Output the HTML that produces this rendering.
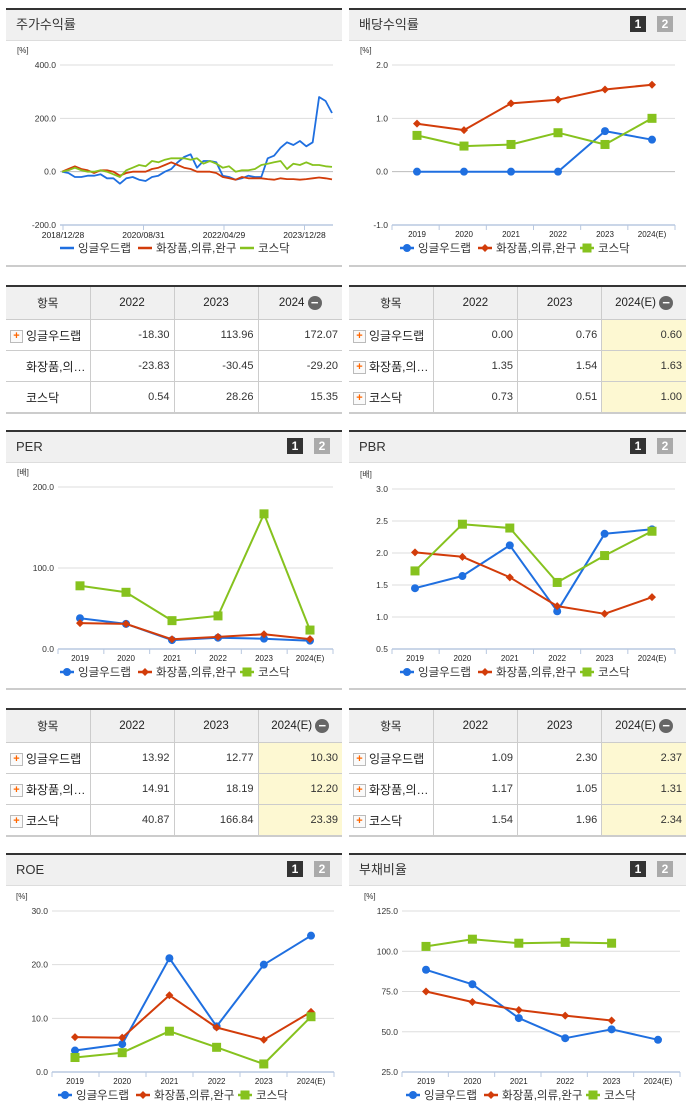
<!DOCTYPE html>
<html><head><meta charset="utf-8">
<style>
body{margin:0;width:691px;height:1115px;background:#fff;position:relative;overflow:hidden;font-family:"Liberation Sans","Noto Sans CJK KR",sans-serif;color:#222}
.panel{position:absolute;border-top:2px solid #333;border-bottom:2px solid #ccc;box-sizing:border-box}
.hdr{position:absolute;left:0;right:0;top:0;height:30px;background:#f0f0f0;border-bottom:1px solid #ddd;font-size:13px;line-height:30px;padding-left:10px;color:#333}
.badge{position:absolute;top:6px;width:16px;height:16px;font-size:12px;font-weight:bold;color:#fff;text-align:center;line-height:16px}
table{position:absolute;border-collapse:collapse;font-size:11px;table-layout:fixed}
td,th{border:1px solid #ccc;height:30px;padding:0 4px;font-weight:normal}
th{background:#f0f0f0;text-align:center;height:32px;font-size:11.5px}
td.n{text-align:right;color:#333}
td.y{background:#fdf8d2}
td.l{text-align:left;font-size:12px;white-space:nowrap;overflow:hidden}
.plus{display:inline-block;width:11px;height:11px;border:1px solid #bbb;background:#fafafa;color:#f60;font-size:11px;line-height:10px;text-align:center;font-weight:bold;vertical-align:middle;margin-right:3px}
.minus{display:inline-block;width:14px;height:14px;border-radius:7px;background:#666;color:#fff;line-height:13px;font-size:13px;font-weight:bold;vertical-align:middle}
table tr:first-child th{border-top:2px solid #333}
table tr:last-child td{border-bottom:2px solid #ccc}
table td:first-child,table th:first-child{border-left:none}
table td:last-child,table th:last-child{border-right:none}
</style></head><body>

<div class="panel" style="left:6px;top:8px;width:336px;height:259px"><div class="hdr">주가수익률</div></div>
<div class="panel" style="left:349px;top:8px;width:337px;height:259px"><div class="hdr">배당수익률</div>
<div class="badge" style="left:281px;background:#333">1</div><div class="badge" style="left:308px;background:#aaa">2</div></div>
<div class="panel" style="left:6px;top:430px;width:336px;height:260px"><div class="hdr">PER</div>
<div class="badge" style="left:281px;background:#333">1</div><div class="badge" style="left:308px;background:#aaa">2</div></div>
<div class="panel" style="left:349px;top:430px;width:337px;height:260px"><div class="hdr">PBR</div>
<div class="badge" style="left:281px;background:#333">1</div><div class="badge" style="left:308px;background:#aaa">2</div></div>
<div class="panel" style="left:6px;top:853px;width:336px;height:262px;border-bottom:none"><div class="hdr">ROE</div>
<div class="badge" style="left:281px;background:#333">1</div><div class="badge" style="left:308px;background:#aaa">2</div></div>
<div class="panel" style="left:349px;top:853px;width:337px;height:262px;border-bottom:none"><div class="hdr">부채비율</div>
<div class="badge" style="left:281px;background:#333">1</div><div class="badge" style="left:308px;background:#aaa">2</div></div>

<table style="left:6px;top:285px;width:336px">
<tr><th>항목</th><th>2022</th><th>2023</th><th>2024 <span class="minus">−</span></th></tr>
<tr><td class="l"><span class="plus">+</span>잉글우드랩</td><td class="n">-18.30</td><td class="n">113.96</td><td class="n">172.07</td></tr>
<tr><td class="l" style="padding-left:20px">화장품,의…</td><td class="n">-23.83</td><td class="n">-30.45</td><td class="n">-29.20</td></tr>
<tr><td class="l" style="padding-left:20px">코스닥</td><td class="n">0.54</td><td class="n">28.26</td><td class="n">15.35</td></tr></table>

<table style="left:349px;top:285px;width:337px">
<tr><th>항목</th><th>2022</th><th>2023</th><th class="y" style="background:#f0f0f0">2024(E) <span class="minus">−</span></th></tr>
<tr><td class="l"><span class="plus">+</span>잉글우드랩</td><td class="n">0.00</td><td class="n">0.76</td><td class="n y">0.60</td></tr>
<tr><td class="l"><span class="plus">+</span>화장품,의…</td><td class="n">1.35</td><td class="n">1.54</td><td class="n y">1.63</td></tr>
<tr><td class="l"><span class="plus">+</span>코스닥</td><td class="n">0.73</td><td class="n">0.51</td><td class="n y">1.00</td></tr></table>

<table style="left:6px;top:708px;width:336px">
<tr><th>항목</th><th>2022</th><th>2023</th><th>2024(E) <span class="minus">−</span></th></tr>
<tr><td class="l"><span class="plus">+</span>잉글우드랩</td><td class="n">13.92</td><td class="n">12.77</td><td class="n y">10.30</td></tr>
<tr><td class="l"><span class="plus">+</span>화장품,의…</td><td class="n">14.91</td><td class="n">18.19</td><td class="n y">12.20</td></tr>
<tr><td class="l"><span class="plus">+</span>코스닥</td><td class="n">40.87</td><td class="n">166.84</td><td class="n y">23.39</td></tr></table>

<table style="left:349px;top:708px;width:337px">
<tr><th>항목</th><th>2022</th><th>2023</th><th>2024(E) <span class="minus">−</span></th></tr>
<tr><td class="l"><span class="plus">+</span>잉글우드랩</td><td class="n">1.09</td><td class="n">2.30</td><td class="n y">2.37</td></tr>
<tr><td class="l"><span class="plus">+</span>화장품,의…</td><td class="n">1.17</td><td class="n">1.05</td><td class="n y">1.31</td></tr>
<tr><td class="l"><span class="plus">+</span>코스닥</td><td class="n">1.54</td><td class="n">1.96</td><td class="n y">2.34</td></tr></table>

<svg id="s" width="691" height="1115" style="position:absolute;left:0;top:0" font-family="Liberation Sans, Noto Sans CJK KR, sans-serif"></svg>

<script>
const years = ["2019","2020","2021","2022","2023","2024(E)"];
const seriesNames = ["잉글우드랩","화장품,의류,완구","코스닥"];
const stockDates = ["2018/12/28","2020/08/31","2022/04/29","2023/12/28"];
const stockBlue = [0,-5,-20,-20,-15,-15,-10,-25,-25,-45,-25,-20,-30,-35,-20,-15,0,10,35,55,65,15,40,40,35,-15,-20,-30,-25,-15,-20,-20,50,60,90,110,100,115,95,110,280,265,220];
const stockRed = [0,10,20,10,5,-5,5,5,0,-15,-5,0,0,0,10,15,25,35,25,15,10,0,0,0,-5,-20,-25,-30,-20,-25,-25,-25,-28,-30,-25,-28,-28,-30,-28,-25,-22,-25,-29];
const stockGreen = [0,5,15,5,0,0,5,0,-10,-20,5,15,25,20,40,35,45,50,50,50,45,50,30,40,30,15,20,0,5,5,10,25,30,35,40,10,30,25,35,25,25,20,18];
const stockTicks = [400,200,0,-200];
const divBlue = [0,0,0,0,0.76,0.60];
const divRed = [0.90,0.78,1.28,1.35,1.54,1.63];
const divGreen = [0.68,0.48,0.51,0.73,0.51,1.00];
const divTicks = [2,1,0,-1];
const perBlue = [38,31,11,13.92,12.77,10.30];
const perRed = [32,31,12,14.91,18.19,12.20];
const perGreen = [78,70,35,40.87,166.84,23.39];
const perTicks = [200,100,0];
const pbrBlue = [1.45,1.64,2.12,1.09,2.30,2.37];
const pbrRed = [2.01,1.94,1.62,1.17,1.05,1.31];
const pbrGreen = [1.72,2.45,2.39,1.54,1.96,2.34];
const pbrTicks = [3,2.5,2,1.5,1,0.5];
const roeBlue = [4.0,5.2,21.2,8.5,20.0,25.4];
const roeRed = [6.5,6.4,14.3,8.3,6.0,11.2];
const roeGreen = [2.7,3.6,7.6,4.6,1.5,10.3];
const roeTicks = [30,20,10,0];
const debtBlue = [88.5,79.5,58.5,46,51.5,45];
const debtRed = [75,68.5,63.5,60,57,null];
const debtGreen = [103,107.5,105,105.5,105,null];
const debtTicks = [125,100,75,50,25];

const COLORS = ["#1f6fe0","#d23c0a","#86c21e"];
const svg = document.getElementById('s');
const NS = "http://www.w3.org/2000/svg";
function el(tag, attrs, parent){const e=document.createElementNS(NS,tag);for(const k in attrs)e.setAttribute(k,attrs[k]);(parent||svg).appendChild(e);return e;}

function chart(c){
  const g = el('g',{});
  
  
  const vmax=c.ticks[0], vmin=c.ticks[c.ticks.length-1];
  const yS = v => c.yTop + (vmax - v)/(vmax - vmin)*(c.yBot - c.yTop);
  const n = c.series[0].length;
  const xS = i => c.cx0 + i*(c.cx1 - c.cx0)/(n-1);
  const u = el('text',{x:c.unitX,y:c.yTop-12,'font-size':8,fill:'#333'},g); u.textContent=c.unit;
  
  
  c.ticks.forEach(t=>{
    const y=yS(t);
    const ln = el('line',{x1:c.axL,x2:c.axR,y1:y,y2:y,stroke:(t===0&&c.zeroDark)?'#bbb':'#ddd','stroke-width':1},g);
    
    
    const tx = el('text',{x:c.axL-4,y:y+3,'font-size':8.5,'text-anchor':'end',fill:'#333'},g);
    tx.textContent = t.toFixed(1);
    
    
  });
  el('line',{x1:c.axL,x2:c.axR,y1:c.yBot,y2:c.yBot,stroke:'#b8c8e0','stroke-width':1.5},g);
  if(c.cats){
    const step=(c.axR-c.axL)/c.cats.length;
    c.cats.forEach((cat,i)=>{
      el('line',{x1:c.axL+i*step,x2:c.axL+i*step,y1:c.yBot,y2:c.yBot+5,stroke:'#b8c8e0'},g);
      const tx=el('text',{x:xS(i),y:c.yBot+12,'font-size':8,'text-anchor':'middle',fill:'#222'},g);
      tx.textContent=cat;
      
      
    });
    el('line',{x1:c.axR,x2:c.axR,y1:c.yBot,y2:c.yBot+5,stroke:'#b8c8e0'},g);
  } else {
    c.dateLabels.forEach((d,i)=>{
      const x=c.axL+3+i*80.5;
      el('line',{x1:x,x2:x,y1:c.yBot,y2:c.yBot+5,stroke:'#b8c8e0'},g);
      const tx=el('text',{x:x,y:c.yBot+13,'font-size':8.5,'text-anchor':'middle',fill:'#222'},g);
      tx.textContent=d;
      
      
    });
  }
  c.series.forEach((s,si)=>{
    let pts=[];
    s.forEach((v,i)=>{ if(v!==null) pts.push(xS(i).toFixed(1)+','+yS(v).toFixed(1)); });
    const pl=el('polyline',{points:pts.join(' '),fill:'none',stroke:COLORS[si],'stroke-width':c.markers?2:1.8,'stroke-linejoin':'round'},g);
    
    
    if(c.markers){
      s.forEach((v,i)=>{
        if(v===null) return;
        const x=xS(i), y=yS(v);
        let m;
        if(si===0) m=el('circle',{cx:x,cy:y,r:4,fill:COLORS[0]},g);
        else if(si===1) m=el('path',{d:`M${x} ${y-4}L${x+4} ${y}L${x} ${y+4}L${x-4} ${y}Z`,fill:COLORS[1]},g);
        else m=el('rect',{x:x-4.5,y:y-4.5,width:9,height:9,fill:COLORS[2]},g);
        
        
      });
    }
  });
  const widths=[78,102,56];
  const total=widths.reduce((a,b)=>a+b,0);
  let lx=c.legCx-total/2;
  seriesNames.forEach((nm,i)=>{
    const lg=el('g',{},g);
    
    
    el('line',{x1:lx,x2:lx+14,y1:c.legY,y2:c.legY,stroke:COLORS[i],'stroke-width':2.5},lg);
    if(c.markers){
      const x=lx+7,y=c.legY;
      if(i===0) el('circle',{cx:x,cy:y,r:4,fill:COLORS[0]},lg);
      else if(i===1) el('path',{d:`M${x} ${y-4}L${x+4} ${y}L${x} ${y+4}L${x-4} ${y}Z`,fill:COLORS[1]},lg);
      else el('rect',{x:x-4.5,y:y-4.5,width:9,height:9,fill:COLORS[2]},lg);
    }
    const t=el('text',{x:lx+18,y:c.legY+4,'font-size':11.5,fill:'#333'},lg);
    t.textContent=nm;
    lx+=widths[i];
  });
}

chart({name:'stock-return-chart',unit:'[%]',unitX:17,ticks:stockTicks,yTop:65,yBot:225,axL:60,axR:333,cx0:62,cx1:332,
  series:[stockBlue,stockRed,stockGreen],dateLabels:stockDates,markers:false,zeroDark:true,legCx:178,legY:248});
chart({name:'dividend-chart',unit:'[%]',unitX:360,ticks:divTicks,yTop:65,yBot:225,axL:392,axR:675,cx0:417,cx1:652,
  series:[divBlue,divRed,divGreen],cats:years,markers:true,legCx:518,legY:248,zeroDark:true});
chart({name:'per-chart',unit:'[배]',unitX:17,ticks:perTicks,yTop:487,yBot:649,axL:58,axR:333,cx0:80,cx1:310,
  series:[perBlue,perRed,perGreen],cats:years,markers:true,legCx:178,legY:672});
chart({name:'pbr-chart',unit:'[배]',unitX:360,ticks:pbrTicks,yTop:489,yBot:649,axL:392,axR:675,cx0:415,cx1:652,
  series:[pbrBlue,pbrRed,pbrGreen],cats:years,markers:true,legCx:518,legY:672});
chart({name:'roe-chart',unit:'[%]',unitX:16,ticks:roeTicks,yTop:911,yBot:1072,axL:52,axR:334,cx0:75,cx1:311,
  series:[roeBlue,roeRed,roeGreen],cats:years,markers:true,legCx:176,legY:1095});
chart({name:'debt-ratio-chart',unit:'[%]',unitX:364,ticks:debtTicks,yTop:911,yBot:1072,axL:402,axR:680,cx0:426,cx1:658,
  series:[debtBlue,debtRed,debtGreen],cats:years,markers:true,legCx:524,legY:1095});
</script>
</body></html>
